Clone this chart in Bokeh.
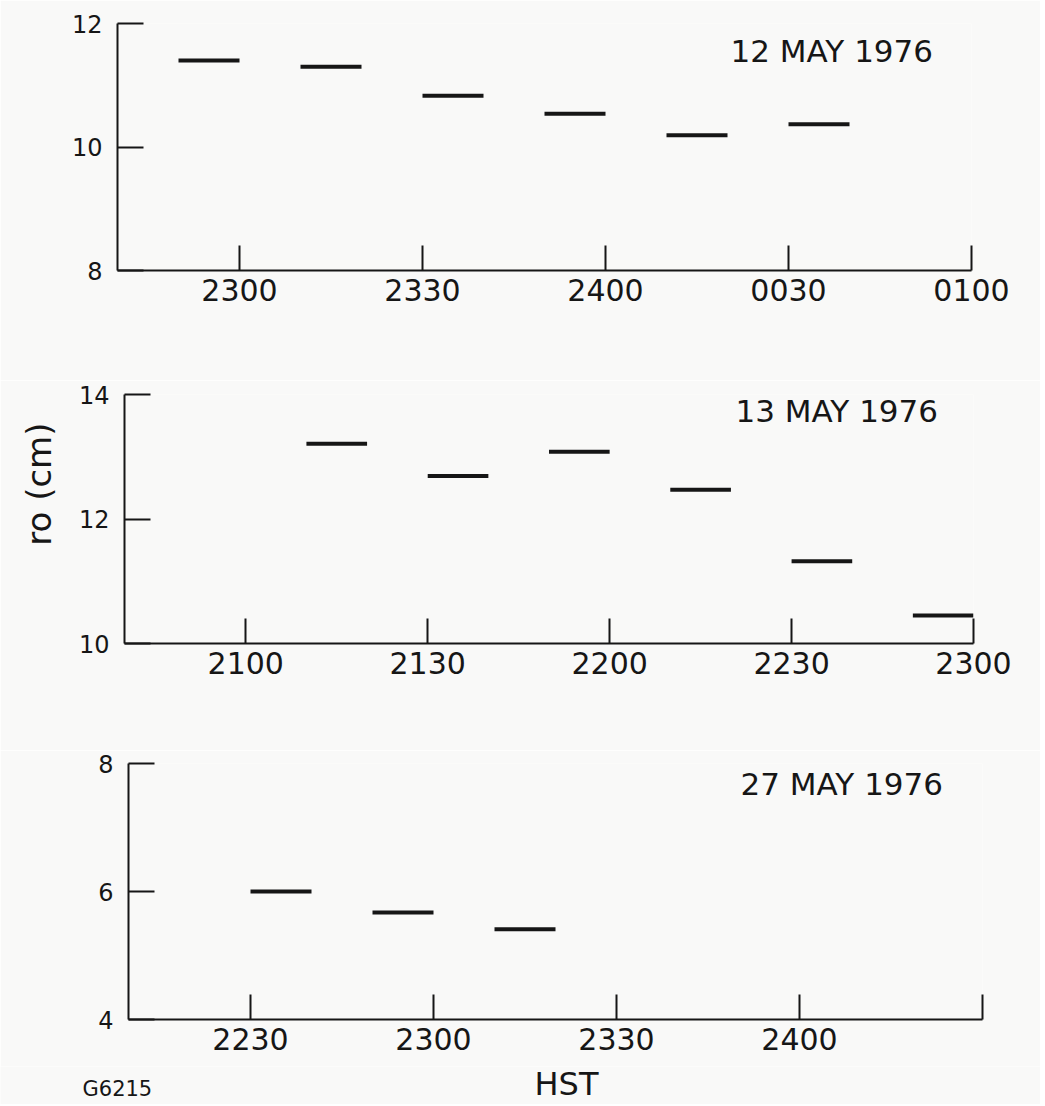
import math
from bokeh.plotting import figure
from bokeh.layouts import column
from bokeh.models import FixedTicker, Label, ColumnDataSource, Range1d, Title
from bokeh.embed import file_html
from bokeh.resources import INLINE

FONT = "DejaVu Sans"
INK = "#161616"
BG = "#f9f9f8"
W = 1040

# ---------------- data ----------------
# Panel 1 : 12 MAY 1976
p1_title = "12 MAY 1976"
p1_xrange = ["2240", "0100"]
p1_ticks = ["2300", "2330", "2400", "0030", "0100"]
p1_tick_labels = ["2300", "2330", "2400", "0030", "0100"]
p1_bar_start = ["2250", "2310", "2330", "2350", "0010", "0030"]
p1_bar_end = ["2300", "2320", "2340", "2400", "0020", "0040"]
p1_r0 = [11.40, 11.30, 10.83, 10.54, 10.19, 10.37]
p1_yrange = [8, 12]
p1_yticks = [8, 10, 12]

# Panel 2 : 13 MAY 1976
p2_title = "13 MAY 1976"
p2_xrange = ["2040", "2300"]
p2_ticks = ["2100", "2130", "2200", "2230", "2300"]
p2_tick_labels = ["2100", "2130", "2200", "2230", "2300"]
p2_bar_start = ["2110", "2130", "2150", "2210", "2230", "2250"]
p2_bar_end = ["2120", "2140", "2200", "2220", "2240", "2300"]
p2_r0 = [13.21, 12.69, 13.08, 12.47, 11.32, 10.45]
p2_yrange = [10, 14]
p2_yticks = [10, 12, 14]

# Panel 3 : 27 MAY 1976
p3_title = "27 MAY 1976"
p3_xrange = ["2210", "0030"]
p3_ticks = ["2230", "2300", "2330", "2400", "0030"]
p3_tick_labels = ["2230", "2300", "2330", "2400", ""]
p3_bar_start = ["2230", "2250", "2310"]
p3_bar_end = ["2240", "2300", "2320"]
p3_r0 = [6.00, 5.67, 5.41]
p3_yrange = [4, 8]
p3_yticks = [4, 6, 8]

y_label = "ro (cm)"
x_label = "HST"
fig_id = "G6215"


def to_min(s):
    h, m = int(s[:2]), int(s[2:])
    t = h * 60 + m
    if h < 12:
        t += 1440
    return t


def panel(title, xrange_, ticks, tick_labels, bstart, bend, vals, yrange, yticks,
          height, b_left, frame_w, b_top, b_bottom, title_pos):
    p = figure(width=W, height=height, output_backend="svg", toolbar_location=None,
               x_range=Range1d(to_min(xrange_[0]), to_min(xrange_[1])),
               y_range=Range1d(yrange[0], yrange[1]),
               min_border_left=b_left, min_border_right=W - b_left - frame_w,
               min_border_top=b_top, min_border_bottom=b_bottom)
    if "frame_align" in p.properties():
        p.frame_align = False
    p.background_fill_color = BG
    p.border_fill_color = BG
    p.outline_line_color = None
    p.xgrid.grid_line_color = None
    p.ygrid.grid_line_color = None

    src = ColumnDataSource(dict(x0=[to_min(s) for s in bstart],
                                x1=[to_min(s) for s in bend],
                                y=vals))
    p.segment(x0="x0", y0="y", x1="x1", y1="y", source=src,
              line_color=INK, line_width=4)

    tv = [to_min(t) for t in ticks]
    xa = p.xaxis[0]
    xa.ticker = FixedTicker(ticks=tv)
    xa.major_label_overrides = {v: l for v, l in zip(tv, tick_labels)}
    xa.major_tick_in = 25
    xa.major_tick_out = 0
    xa.minor_tick_line_color = None
    xa.axis_line_width = 2
    xa.major_tick_line_width = 2
    xa.axis_line_color = INK
    xa.major_tick_line_color = INK
    xa.major_label_text_font = FONT
    xa.major_label_text_font_size = "30px"
    xa.major_label_text_color = INK
    xa.major_label_standoff = 8

    ya = p.yaxis[0]
    ya.ticker = FixedTicker(ticks=yticks)
    ya.major_tick_in = 26
    ya.major_tick_out = 0
    ya.minor_tick_line_color = None
    ya.axis_line_width = 2
    ya.major_tick_line_width = 2
    ya.axis_line_color = INK
    ya.major_tick_line_color = INK
    ya.major_label_text_font = FONT
    ya.major_label_text_font_size = "24px"
    ya.major_label_text_color = INK
    ya.major_label_standoff = 15

    p.add_layout(Label(x=title_pos[0], y=title_pos[1], x_units="screen", y_units="screen",
                       text=title, text_font=FONT, text_font_size="31px",
                       text_color=INK, text_align="left", text_baseline="middle"))
    return p


f1 = panel(p1_title, p1_xrange, p1_ticks, p1_tick_labels, p1_bar_start, p1_bar_end, p1_r0,
           p1_yrange, p1_yticks, height=380, b_left=117, frame_w=854, b_top=23, b_bottom=110,
           title_pos=(613, 220))
f2 = panel(p2_title, p2_xrange, p2_ticks, p2_tick_labels, p2_bar_start, p2_bar_end, p2_r0,
           p2_yrange, p2_yticks, height=370, b_left=124, frame_w=849, b_top=14, b_bottom=107,
           title_pos=(611, 233))
f3 = panel(p3_title, p3_xrange, p3_ticks, p3_tick_labels, p3_bar_start, p3_bar_end, p3_r0,
           p3_yrange, p3_yticks, height=316, b_left=128, frame_w=854, b_top=13, b_bottom=47,
           title_pos=(612, 236))

# y-axis title on the middle panel (side title, anchored near the top of the frame)
f2.add_layout(Title(text=y_label, align="right", offset=28, standoff=30,
                    vertical_align="top",
                    text_font=FONT, text_font_size="34px", text_font_style="normal",
                    text_color=INK), "left")

# footer strip with the x-axis title and the figure id
f4 = figure(width=W, height=38, output_backend="svg", toolbar_location=None,
            x_range=Range1d(0, W), y_range=Range1d(0, 38),
            x_axis_type=None, y_axis_type=None,
            min_border_left=0, min_border_right=0, min_border_top=0, min_border_bottom=0)
if "frame_align" in f4.properties():
    f4.frame_align = False
f4.background_fill_color = BG
f4.border_fill_color = BG
f4.outline_line_color = None
f4.xgrid.grid_line_color = None
f4.ygrid.grid_line_color = None
f4.add_layout(Label(x=566, y=21, x_units="screen", y_units="screen",
                    text=x_label, text_font=FONT, text_font_size="32px", text_color=INK,
                    text_align="center", text_baseline="middle"))
f4.add_layout(Label(x=82, y=16, x_units="screen", y_units="screen",
                    text=fig_id, text_font=FONT, text_font_size="21px", text_color=INK,
                    text_align="left", text_baseline="middle"))

layout = column(f1, f2, f3, f4, spacing=0)
open("out.html", "w").write(file_html(layout, INLINE))
